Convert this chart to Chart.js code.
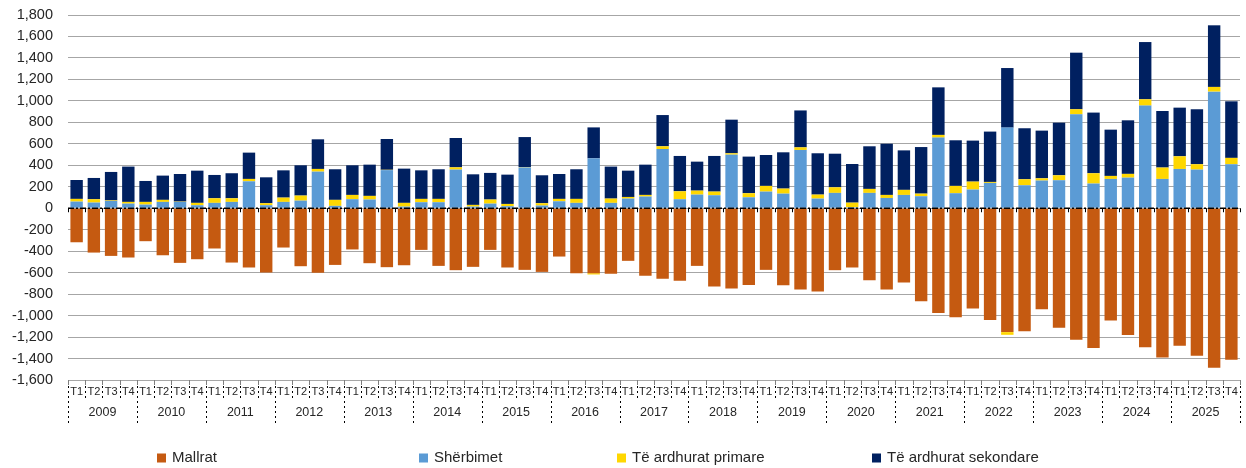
<!DOCTYPE html>
<html>
<head>
<meta charset="utf-8">
<script src="https://cdn.jsdelivr.net/npm/chart.js@4.4.1/dist/chart.umd.min.js"></script>
<style>
html,body{margin:0;padding:0;background:#fff;}
#wrap{width:1246px;height:468px;position:relative;}
</style>
</head>
<body>
<div id="wrap"><canvas id="c" width="1246" height="468"></canvas></div>
<script>
const years = ['2009','2010','2011','2012','2013','2014','2015','2016','2017','2018','2019','2020','2021','2022','2023','2024','2025'];
const quarters = ['T1','T2','T3','T4'];
const yTicks = {min:-1600, max:1800, step:200};

const mallrat = [
 -317,-413,-444,-459, -307,-438,-509,-475, -375,-506,-552,-599, -366,-540,-602,-528,
 -384,-512,-549,-531, -388,-537,-577,-546, -388,-552,-574,-593, -450,-605,-605,-611,
 -490,-630,-658,-676, -537,-729,-748,-714, -574,-717,-757,-776, -577,-552,-670,-757,
 -692,-866,-977,-1015, -934,-1040,-1154,-1145, -940,-1114,-1226,-1303, -1046,-1180,-1294,-1390,
 -1282,-1375,-1487,-1412];
const sherbimet = [
 62,53,68,43, 34,59,59,28, 50,59,251,28, 59,71,341,22,
 84,81,355,15, 56,56,360,15, 43,19,380,25, 65,50,465,50,
 90,109,552,84, 127,121,499,102, 155,136,543,90, 143,9,143,96,
 124,112,658,140, 174,236,751,214, 258,261,875,230, 273,285,956,273,
 366,360,1086,410];
const primare = [
 25,31,5,16, 25,19,3,22, 43,34,22,19, 40,47,25,56,
 40,34,3,35, 31,31,21,16, 38,21,4,22, 22,37,-12,40,
 15,15,25,74, 37,34,13,38, 53,47,24,37, 52,43,37,28,
 47,24,25,68, 74,9,-25,56, 21,46,47,96, 28,35,59,106,
 118,50,44,59];
const sekondare = [
 176,198,265,329, 195,226,257,300, 217,233,245,241, 254,282,276,285,
 276,291,287,319, 266,276,273,285, 248,273,279,260, 232,276,288,298,
 245,282,291,329, 270,332,313,341, 288,338,344,385, 313,360,397,477,
 368,434,443,425, 382,469,555,475, 444,490,527,565, 431,499,533,527,
 453,512,574,527];

const seriesNames = ['Mallrat','Shërbimet','Të ardhurat primare','Të ardhurat sekondare'];
const seriesColors = ['#C55A11','#5B9BD5','#FFD700','#002060'];

const labels = [];
years.forEach(y => quarters.forEach(q => labels.push(y + ' ' + q)));

const FONT = 'Liberation Sans, Arial, sans-serif';
const TXT = '#262626';

const decoPlugin = {
  id: 'deco',
  afterDatasetsDraw(chart) {
    const ctx = chart.ctx, x = chart.scales.x, y = chart.scales.y;
    const y0 = y.getPixelForValue(0);
    const ca = chart.chartArea;
    ctx.save();
    ctx.strokeStyle = '#000';
    ctx.lineWidth = 1.5;
    ctx.setLineDash([6,2,2,2]);
    ctx.beginPath();
    ctx.moveTo(ca.left, y0);
    ctx.lineTo(ca.right, y0);
    ctx.stroke();
    ctx.setLineDash([]);
    ctx.lineWidth = 1;
    const n = labels.length;
    const half = (x.getPixelForValue(1) - x.getPixelForValue(0)) / 2;
    ctx.beginPath();
    for (let i = 0; i <= n; i++) {
      const bx = Math.round(x.getPixelForValue(i) - half) + 0.5;
      ctx.moveTo(bx, y0);
      ctx.lineTo(bx, y0 + 4);
    }
    ctx.stroke();
    ctx.restore();
  },
  afterDraw(chart) {
    const ctx = chart.ctx, x = chart.scales.x;
    const ca = chart.chartArea;
    const n = labels.length;
    const half = (x.getPixelForValue(1) - x.getPixelForValue(0)) / 2;
    const yb = ca.bottom;
    ctx.save();
    ctx.lineWidth = 1;
    for (let i = 0; i <= n; i++) {
      const bx = Math.round(x.getPixelForValue(i) - half) + 0.5;
      const isYear = (i % 4 === 0);
      ctx.setLineDash([]);
      ctx.strokeStyle = '#7f7f7f';
      ctx.beginPath();
      ctx.moveTo(bx, yb);
      ctx.lineTo(bx, yb + 5);
      ctx.stroke();
      ctx.strokeStyle = '#000';
      ctx.setLineDash([2,3]);
      ctx.beginPath();
      ctx.moveTo(bx, yb + 6);
      ctx.lineTo(bx, yb + (isYear ? 43 : 18));
      ctx.stroke();
    }
    ctx.setLineDash([]);
    ctx.fillStyle = TXT;
    ctx.font = '12.5px ' + FONT;
    ctx.textAlign = 'center';
    ctx.textBaseline = 'middle';
    years.forEach((yr, k) => {
      const cx = (x.getPixelForValue(k*4) + x.getPixelForValue(k*4+3)) / 2;
      ctx.fillText(yr, cx, yb + 33);
    });
    const W = chart.width;
    const pos = [157/1246, 419/1246, 617/1246, 872/1246];
    const ly = 458;
    ctx.font = '15px ' + FONT;
    ctx.textAlign = 'left';
    chart.data.datasets.forEach((ds, i) => {
      const lx = W * pos[i];
      ctx.fillStyle = ds.backgroundColor;
      ctx.fillRect(lx, ly - 4.5, 9, 9);
      ctx.fillStyle = TXT;
      ctx.fillText(ds.label, lx + 15, ly);
    });
    ctx.restore();
  }
};

new Chart(document.getElementById('c'), {
  type: 'bar',
  data: {
    labels: labels,
    datasets: [mallrat, sherbimet, primare, sekondare].map((d, i) => ({
      label: seriesNames[i],
      data: d,
      backgroundColor: seriesColors[i],
      borderWidth: 0,
      stack: 's',
      categoryPercentage: 1.0,
      barPercentage: 0.72
    }))
  },
  options: {
    responsive: false,
    animation: false,
    devicePixelRatio: 1,
    layout: { padding: { left: 0, right: 6, top: 15, bottom: 0 } },
    plugins: { legend: { display: false }, tooltip: { enabled: false } },
    scales: {
      x: {
        stacked: true,
        grid: { display: false, drawTicks: false },
        border: { display: false },
        ticks: {
          autoSkip: false, maxRotation: 0, minRotation: 0, padding: 5,
          color: TXT, font: { family: FONT, size: 11 },
          callback: (v, i) => quarters[i % 4]
        },
        afterFit: (s) => { s.height = 88; s.paddingLeft = 0; s.paddingRight = 0; }
      },
      y: {
        stacked: true,
        min: yTicks.min, max: yTicks.max,
        grid: { color: '#a6a6a6', lineWidth: 1, drawTicks: false },
        border: { display: false },
        ticks: {
          stepSize: yTicks.step, padding: 15, color: TXT,
          font: { family: FONT, size: 14.5 },
          callback: (v) => v.toLocaleString('en-US')
        },
        afterFit: (s) => { s.width = 68; s.paddingTop = 0; s.paddingBottom = 0; }
      }
    }
  },
  plugins: [decoPlugin]
});
</script>
</body>
</html>
